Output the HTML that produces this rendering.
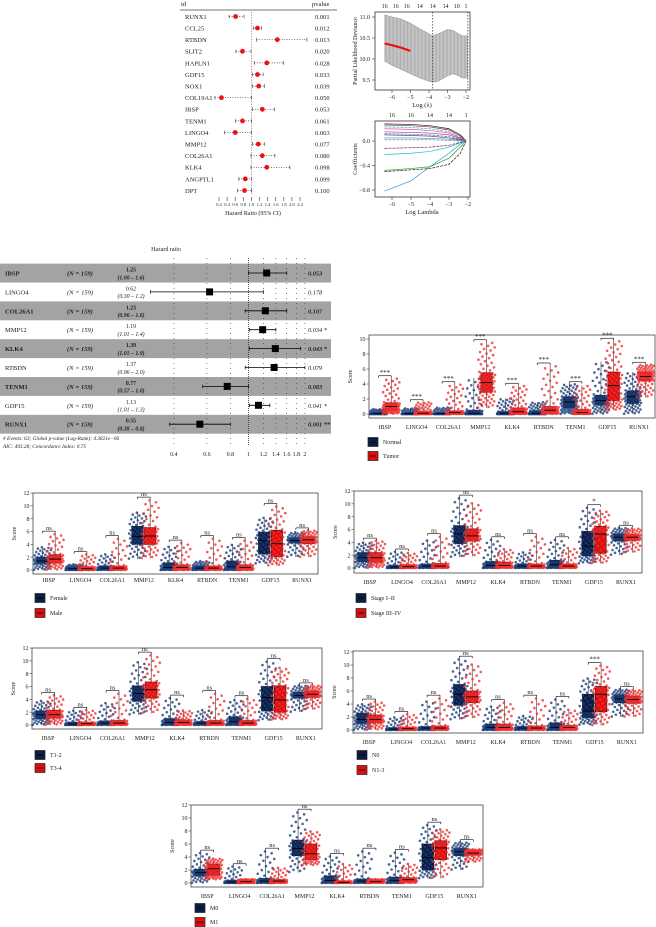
<!DOCTYPE html>
<html><head><meta charset="utf-8">
<style>
html,body{margin:0;padding:0;background:#fff;}
svg{display:block;font-family:"Liberation Serif",serif;}
</style></head>
<body>
<svg id="fig" width="656" height="927" viewBox="0 0 656 927"></svg>
<script>
// ---------- DATA ----------
const uniGenes = ["RUNX1","CCL25","RTBDN","SLIT2","HAPLN1","GDF15","NOX1","COL19A1","IBSP","TENM1","LINGO4","MMP12","COL26A1","KLK4","ANGPTL1","DPT"];
const uniHR = [0.61,1.15,1.64,0.78,1.38,1.15,1.18,0.26,1.27,0.78,0.60,1.17,1.27,1.38,0.85,0.83];
const uniLo = [0.45,1.05,1.13,0.62,1.07,1.03,1.03,0.10,1.03,0.61,0.34,1.03,0.99,0.99,0.69,0.66];
const uniHi = [0.82,1.25,2.37,0.99,1.79,1.29,1.32,1.00,1.57,1.00,1.00,1.32,1.58,1.95,1.00,1.00];
const uniP = ["0.001","0.012","0.013","0.020","0.028","0.033","0.039","0.050","0.053","0.061","0.063","0.077","0.080","0.098","0.099","0.100"];
const uniTicks = [0.2,0.4,0.6,0.8,1.0,1.2,1.4,1.6,1.8,2.0,2.2];

const cvLambda = [-6.4,-6,-5.5,-5,-4.5,-4,-3.8,-3.5,-3,-2.7,-2.4,-2.2,-2.1,-1.9];
const cvUpper = [11.05,11.0,10.95,10.85,10.72,10.6,10.55,10.6,10.7,10.68,10.6,10.55,10.55,10.55];
const cvLower = [9.95,9.85,9.75,9.65,9.55,9.47,9.45,9.47,9.6,9.65,9.6,9.55,9.55,9.55];
const cvRedLambda = [-6.4,-6,-5.5,-5];
const cvRed = [10.37,10.33,10.27,10.19];
const cvTopLabels = ["16","16","16","14","14","14","10","1"];
const cvTopPos = [-6.4,-5.8,-5.2,-4.5,-3.8,-3.1,-2.5,-2.0];

const coefLambda = [-6.4,-5,-4,-3,-2.4,-2.1];
const coefPaths = [
 [-0.82,-0.65,-0.42,-0.2,-0.05,0],
 [-0.5,-0.47,-0.45,-0.38,-0.2,0],
 [-0.48,-0.45,-0.42,-0.28,-0.1,0],
 [-0.22,-0.2,-0.17,-0.1,-0.03,0],
 [-0.12,-0.11,-0.1,-0.07,-0.02,0],
 [0.28,0.27,0.25,0.2,0.1,0],
 [0.26,0.25,0.23,0.18,0.08,0],
 [0.23,0.22,0.2,0.15,0.06,0],
 [0.2,0.19,0.17,0.13,0.05,0],
 [0.15,0.14,0.13,0.1,0.04,0],
 [0.12,0.11,0.1,0.07,0.03,0],
 [0.1,0.09,0.08,0.05,0.02,0],
 [0.05,0.05,0.04,0.03,0.01,0],
 [0.02,0.02,0.02,0.01,0.0,0]
];
const coefColors = ["#3a8fd6","#222","#2ca02c","#19c2c2","#8b1a3a","#222","#a0204a","#19c2c2","#e04aa0","#b030b0","#2ca02c","#6a3ab0","#3a8fd6","#888"];
const coefTopLabels = ["16","16","14","14","1"];
const coefTopPos = [-6,-5,-4,-3,-2.1];

const mvGenes = ["IBSP","LINGO4","COL26A1","MMP12","KLK4","RTBDN","TENM1","GDF15","RUNX1"];
const mvHR = [1.25,0.62,1.23,1.19,1.39,1.37,0.77,1.13,0.55];
const mvLo = [1.00,0.30,0.96,1.01,1.01,0.96,0.57,1.01,0.38];
const mvHi = [1.6,1.2,1.6,1.4,1.9,2.0,1.0,1.3,0.8];
const mvLoTxt = ["1.00","0.30","0.96","1.01","1.01","0.96","0.57","1.01","0.38"];
const mvHiTxt = ["1.6","1.2","1.6","1.4","1.9","2.0","1.0","1.3","0.8"];
const mvP = ["0.053","0.178","0.107","0.034 *","0.043 *","0.079","0.083","0.041 *","0.001 **"];
const mvTicks = [0.4,0.6,0.8,1,1.2,1.4,1.6,1.8,2];
const mvTickTxt = ["0.4","0.6","0.8","1","1.2","1.4","1.6","1.8","2"];

const boxGenes = ["IBSP","LINGO4","COL26A1","MMP12","KLK4","RTBDN","TENM1","GDF15","RUNX1"];
// each: [lo,q1,med,q3,hi]
const tumorNormal = [[0,0,0.05,0.15,0.7],[0,0,0.05,0.1,0.8],[0,0,0.05,0.1,0.9],[0,0,0.1,0.5,4.8],[0,0,0.1,0.3,2.1],[0,0,0.1,0.4,1.6],[0,0.8,1.6,2.3,4.0],[0,1.2,1.8,2.5,7],[0,1.4,2.3,3.1,5.6]];
const tumorTumor = [[0,0.5,1.0,1.5,4.8],[0,0,0.1,0.3,1.6],[0,0.05,0.2,0.4,4],[0.8,2.9,4.2,5.5,9.6],[0,0.1,0.3,0.8,3.8],[0,0.2,0.5,1.0,6.5],[0,0.05,0.2,0.6,3.8],[0.5,1.8,3.8,5.6,9.8],[2.2,4.4,5.0,5.6,6.6]];
const tumorSig = ["***","***","***","***","***","***","***","***","***"];

const sexF = [[0,1,1.4,2,3.6],[0,0.05,0.2,0.4,0.9],[0,0.1,0.3,0.6,2.5],[1.7,4,5.2,6.8,9],[0,0.1,0.4,1.1,3.7],[0,0.1,0.3,0.6,1.4],[0,0.1,0.5,1.4,4],[1,2.5,4.6,5.9,8.2],[2,4.2,4.6,5,5.9]];
const sexM = [[0,1.1,1.7,2.4,5.7],[0,0.05,0.2,0.5,2.5],[0,0.1,0.3,0.6,5],[1.8,4,5.3,6.6,11],[0,0.1,0.4,0.8,4.3],[0,0.1,0.3,0.6,5],[0,0.1,0.4,0.8,4.7],[0.7,2.1,4.1,6.2,10],[2,4.1,4.7,5.2,6.2]];
const sexSig = ["ns","ns","ns","ns","ns","ns","ns","ns","ns"];

const stage12 = [[0,1,1.6,2.4,4],[0,0.05,0.15,0.4,2.6],[0,0.1,0.3,0.6,4.4],[1.7,3.8,5.3,6.6,11],[0,0.1,0.4,1.0,4.5],[0,0.1,0.3,0.6,2.5],[0,0.1,0.5,1.2,4.5],[0.7,1.9,3.4,5.7,9.5],[2,4.2,4.8,5.3,6.3]];
const stage34 = [[0,0.9,1.6,2.4,4.3],[0,0.05,0.2,0.5,2.4],[0,0.1,0.3,0.7,5],[1.8,4.2,5,6.1,10.2],[0,0.1,0.4,0.9,3],[0,0.1,0.3,0.6,5],[0,0.1,0.3,0.6,3.2],[0.7,2.3,5.3,6.5,9],[2.4,4.3,4.8,5.2,6.2]];
const stageSig = ["ns","ns","ns","ns","ns","ns","ns","*","ns"];

const t12 = [[0,1,1.6,2.2,3.8],[0,0.05,0.15,0.4,2.3],[0,0.1,0.3,0.6,3.5],[1.6,3.7,4.9,6.1,9.9],[0,0.1,0.4,1.0,4.3],[0,0.1,0.3,0.5,2.4],[0,0.1,0.5,1.3,4],[0.7,2.2,4.3,6.0,10],[2,4.2,4.6,5.1,6.2]];
const t34 = [[0,1.1,1.6,2.3,4.7],[0,0.05,0.2,0.4,2.4],[0,0.1,0.3,0.7,5],[1.8,4.2,5.5,6.7,11],[0,0.1,0.4,0.8,2.3],[0,0.1,0.3,0.7,5],[0,0.1,0.3,0.7,4.2],[0.8,2.0,3.9,6.1,9],[2.4,4.3,4.8,5.3,6.2]];
const tSig = ["ns","ns","ns","ns","ns","ns","ns","ns","ns"];

const n0 = [[0,1,1.6,2.6,4],[0,0.05,0.15,0.3,2],[0,0.1,0.3,0.5,4.5],[1.6,3.8,5.5,7,11],[0,0.1,0.4,0.9,3.7],[0,0.1,0.3,0.5,2.2],[0,0.1,0.4,1.1,4.8],[0.8,1.9,2.9,5.5,8],[2,4.2,4.8,5.4,6.3]];
const n13 = [[0,1.1,1.6,2.3,4.4],[0,0.05,0.2,0.4,2.5],[0,0.1,0.3,0.6,5],[1.8,4.2,5.1,6,10.2],[0,0.1,0.4,0.9,4.3],[0,0.1,0.3,0.6,5],[0,0.1,0.4,0.7,3.2],[0.7,2.8,5.5,6.7,10],[2,4.1,4.7,5.2,6.2]];
const nSig = ["ns","ns","ns","ns","ns","ns","ns","***","ns"];

const m0 = [[0,1.1,1.6,2.1,4.7],[0,0.05,0.15,0.4,2.6],[0,0.1,0.3,0.7,5],[1.6,4.2,5.3,6.6,11],[0,0.1,0.4,1.1,4.2],[0,0.1,0.3,0.6,5],[0,0.1,0.4,0.9,4.8],[0.7,2,3.9,6,9],[2,4.2,4.8,5.3,6.3]];
const m1 = [[0.5,1.2,2.2,2.9,3.8],[0,0.05,0.2,0.4,0.6],[0,0.1,0.3,0.5,2.4],[2.7,3.6,4.5,6,8],[0,0.05,0.1,0.3,3],[0,0.1,0.2,0.4,0.6],[0,0.2,0.5,0.8,3],[0.7,3.6,5.4,6.5,8.3],[3.2,4.3,4.6,4.9,5.2]];
const mSig = ["ns","ns","ns","ns","ns","ns","ns","ns","ns"];

// ---------- HELPERS ----------
const NS = "http://www.w3.org/2000/svg";
const S = document.getElementById('fig');
function mk(tag, attrs, parent){
  const e = document.createElementNS(NS, tag);
  for (const k in attrs) e.setAttribute(k, attrs[k]);
  (parent || S).appendChild(e);
  return e;
}
function tx(x, y, s, attrs, parent){
  const a = Object.assign({x:x, y:y, 'font-size':7, fill:'#222'}, attrs || {});
  const e = mk('text', a, parent);
  e.textContent = s;
  return e;
}
function line(x1,y1,x2,y2,st,w,dash,parent){
  const a = {x1:x1,y1:y1,x2:x2,y2:y2,stroke:st||'#000','stroke-width':w||0.6};
  if (dash) a['stroke-dasharray'] = dash;
  return mk('line', a, parent);
}

// ---------- PANEL: univariate forest ----------
(function(){
  const g = mk('g', {});
  
  
  const xs = v => 219 + (v - 0.2) * 40.5;
  const rowY = i => 16.5 + i * 11.6;
  let h = tx(181, 6, 'id', {'font-size':6.5}, g);
  
  
  h = tx(312, 6, 'pvalue', {'font-size':6.5}, g);
  
  
  line(180, 10, 337, 10, '#444', 0.7, null, g);
  line(xs(1.0), 12, xs(1.0), 194, '#555', 0.6, '1.2,1.5', g);
  uniGenes.forEach((gene, i) => {
    const y = rowY(i);
    const t = tx(185, y + 2.4, gene, {'font-size':6.5}, g);
    
    
    const ci = line(xs(uniLo[i]), y, xs(uniHi[i]), y, '#333', 0.7, '1,1.5', g);
    
    
    line(xs(uniLo[i]), y-1.8, xs(uniLo[i]), y+1.8, '#333', 0.6, null, g);
    line(xs(uniHi[i]), y-1.8, xs(uniHi[i]), y+1.8, '#333', 0.6, null, g);
    const pt = mk('circle', {cx:xs(uniHR[i]), cy:y, r:2.4, fill:'#ee1111'}, g);
    
    
    const p = tx(315, y + 2.4, uniP[i], {'font-size':6.5}, g);
    
    
  });
  uniTicks.forEach(v => {
    line(xs(v), 197, xs(v), 201, '#333', 0.6, null, g);
    const t = tx(xs(v), 206, v.toFixed(1), {'font-size':4.5, 'text-anchor':'middle'}, g);
    
    
  });
  const ttl = tx(253, 215, 'Hazard Ratio (95% CI)', {'font-size':6, 'text-anchor':'middle'}, g);
  
  
})();

// ---------- PANEL: CV deviance ----------
(function(){
  const g = mk('g', {});
  
  
  const xs = v => 392 + (v + 6) * 18.5;
  const ys = v => 17 + (11.0 - v) * 42;
  let pts = cvLambda.map((l,i)=>xs(l)+','+ys(cvUpper[i])).join(' ') + ' ' +
            cvLambda.slice().reverse().map((l,j)=>xs(l)+','+ys(cvLower[cvLambda.length-1-j])).join(' ');
  const band = mk('polygon', {points:pts, fill:'#a8a8a8', stroke:'#777', 'stroke-width':0.5}, g);
  
  
  for (let k = 0; k <= 60; k++){
    const l = cvLambda[0] + k * (cvLambda[cvLambda.length-1] - cvLambda[0]) / 60;
    let j = 0; while (j < cvLambda.length - 2 && cvLambda[j+1] < l) j++;
    const f = (l - cvLambda[j]) / (cvLambda[j+1] - cvLambda[j]);
    const u = cvUpper[j] + f * (cvUpper[j+1] - cvUpper[j]);
    const lo = cvLower[j] + f * (cvLower[j+1] - cvLower[j]);
    line(xs(l), ys(u), xs(l), ys(lo), '#e8e8e8', 0.45, null, g);
  }
  const red = mk('polyline', {points:cvRedLambda.map((l,i)=>xs(l)+','+ys(cvRed[i])).join(' '), fill:'none', stroke:'#ee1111', 'stroke-width':2.2}, g);
  
  
  line(xs(-3.8), 12, xs(-3.8), 90, '#333', 0.7, '1.5,1.5', g);
  line(xs(-1.9), 12, xs(-1.9), 90, '#333', 0.7, '1.5,1.5', g);
  const fr = mk('rect', {x:375, y:12, width:95, height:78, fill:'none', stroke:'#333', 'stroke-width':0.8}, g);
  
  
  [11.0,10.5,10.0,9.5].forEach(v => {
    line(372, ys(v), 375, ys(v), '#333', 0.6, null, g);
    tx(370, ys(v)+2.2, v.toFixed(1), {'font-size':6, 'text-anchor':'end'}, g);
  });
  [-6,-5,-4,-3,-2].forEach(v => {
    line(xs(v), 90, xs(v), 93, '#333', 0.6, null, g);
    tx(xs(v), 99, '\u2212' + Math.abs(v), {'font-size':6, 'text-anchor':'middle'}, g);
  });
  cvTopLabels.forEach((s,i) => tx(xs(cvTopPos[i]), 8, s, {'font-size':6, 'text-anchor':'middle'}, g));
  const xt = tx(422, 107, 'Log (\u03bb)', {'font-size':6.5, 'text-anchor':'middle'}, g);
  
  
  const yt = tx(0, 0, 'Partial Likelihood Deviance', {'font-size':6, 'text-anchor':'middle', transform:'translate(357,51) rotate(-90)'}, g);
  
  
})();

// ---------- PANEL: coefficient paths ----------
(function(){
  const g = mk('g', {});
  
  
  const xs = v => 392 + (v + 6) * 19;
  const ys = v => 141 - v * 61.25;
  coefPaths.forEach((p,i) => {
    const d = 'M' + coefLambda.map((l,k)=>xs(l)+','+ys(p[k])).join(' L');
    const pl = mk('path', {d:d, fill:'none', stroke:coefColors[i], 'stroke-width':0.7, 'stroke-dasharray': i%3===1 ? '3,1' : 'none'}, g);
    
    
  });
  const fr = mk('rect', {x:375, y:121, width:95, height:76, fill:'none', stroke:'#333', 'stroke-width':0.8}, g);
  
  
  [0.0,-0.4,-0.8].forEach(v => {
    line(372, ys(v), 375, ys(v), '#333', 0.6, null, g);
    tx(370, ys(v)+2.2, (v<0?'\u2212':'') + Math.abs(v).toFixed(1), {'font-size':6, 'text-anchor':'end'}, g);
  });
  [-6,-5,-4,-3,-2].forEach(v => {
    line(xs(v), 197, xs(v), 200, '#333', 0.6, null, g);
    tx(xs(v), 206, '\u2212' + Math.abs(v), {'font-size':6, 'text-anchor':'middle'}, g);
  });
  coefTopLabels.forEach((s,i) => tx(xs(coefTopPos[i]), 117, s, {'font-size':6, 'text-anchor':'middle'}, g));
  const xt = tx(422, 214, 'Log Lambda', {'font-size':6.5, 'text-anchor':'middle'}, g);
  
  
  const yt = tx(0, 0, 'Coefficients', {'font-size':6.5, 'text-anchor':'middle', transform:'translate(357,159) rotate(-90)'}, g);
  
  
})();

// ---------- PANEL: multivariate forest ----------
(function(){
  const g = mk('g', {});
  
  
  const xs = v => 248.5 + 81.4 * Math.log(v);
  const rowY = i => 273 + i * 18.9;
  mvGenes.forEach((gene,i) => {
    if (i % 2 === 0){
      const r = mk('rect', {x:0, y:rowY(i)-9.4, width:331, height:18.9, fill:'#a3a3a3'}, g);
      
      
    }
  });
  const hr = tx(166, 251, 'Hazard ratio', {'font-size':6, 'text-anchor':'middle'}, g);
  
  
  mvTicks.forEach((v,i) => {
    line(xs(v), 258, xs(v), 446, '#333', v===1?0.8:0.6, v===1?'1,1':'1,4', g);
    const t = tx(xs(v), 456, mvTickTxt[i], {'font-size':6, 'text-anchor':'middle'}, g);
    
    
  });
  mvGenes.forEach((gene,i) => {
    const y = rowY(i), b = i % 2 === 0;
    const w = b ? 'bold' : 'normal';
    const n = tx(5, y+2.5, gene, {'font-size':6.5, 'font-weight':w}, g);
    
    
    tx(67, y+2.5, '(N = 159)', {'font-size':6.5, 'font-style':'italic', 'font-weight':w}, g);
    tx(131, y-1.5, mvHR[i].toFixed(2), {'font-size':5.8, 'text-anchor':'middle', 'font-weight':w}, g);
    tx(131, y+6.3, '(' + mvLoTxt[i] + ' \u2013 ' + mvHiTxt[i] + ')', {'font-size':5.8, 'text-anchor':'middle', 'font-style':'italic', 'font-weight':w}, g);
    const ci = line(xs(mvLo[i]), y, xs(mvHi[i]), y, '#000', 0.8, null, g);
    
    
    line(xs(mvLo[i]), y-1.8, xs(mvLo[i]), y+1.8, '#000', 0.7, null, g);
    line(xs(mvHi[i]), y-1.8, xs(mvHi[i]), y+1.8, '#000', 0.7, null, g);
    const sq = mk('rect', {x:xs(mvHR[i])-3.5, y:y-3.5, width:7, height:7, fill:'#000'}, g);
    
    
    const p = tx(308, y+2.5, mvP[i], {'font-size':6.3, 'font-style':'italic', 'font-weight':w}, g);
    
    
  });
  const f1 = tx(3, 440, '# Events: 63; Global p-value (Log-Rank): 4.3821e\u221206', {'font-size':5.3, 'font-style':'italic'}, g);
  
  
  const f2 = tx(3, 448, 'AIC: 493.28; Concordance Index: 0.75', {'font-size':5.3, 'font-style':'italic'}, g);
  
  
})();

// ---------- BOX PANELS ----------
function quant(b, u){
  const qs = [0,0.25,0.5,0.75,1];
  let j = 0; while (j < 3 && u > qs[j+1]) j++;
  const f = (u - qs[j]) / (qs[j+1] - qs[j]);
  return b[j] + f * (b[j+1] - b[j]);
}
function boxPanel(p){
  const g = mk('g', {});
  
  
  const y = v => p.y0 - v * (p.y0 - p.yTop) / p.max;
  const gw = (p.R - p.L) / 9;
  const bw = gw * 0.36;
  const fr = mk('rect', {x:p.L, y:p.fTop, width:p.R-p.L, height:p.fBot-p.fTop, fill:'#fff', stroke:'#444', 'stroke-width':0.8}, g);
  
  
  p.ticks.forEach(v => {
    line(p.L-2.5, y(v), p.L, y(v), '#444', 0.6, null, g);
    const t = tx(p.L-3.5, y(v)+2.2, String(v), {'font-size':6, 'text-anchor':'end'}, g);
    
    
  });
  const yt = tx(0, 0, 'Score', {'font-size':6, 'text-anchor':'middle', transform:'translate(' + (p.L-17) + ',' + ((p.fTop+p.fBot)/2) + ') rotate(-90)'}, g);
  
  
  const groups = [p.a, p.b];
  const fills = ['#0c1d45', '#e00d0d'];
  const dots = ['#1c3f7a', '#f03030'];
  boxGenes.forEach((gene,i) => {
    const cx = p.L + gw * (i + 0.5);
    const centers = [cx - gw*0.2, cx + gw*0.2];
    groups.forEach((grp,k) => {
      const b = grp[i], c = centers[k];
      line(c, y(b[0]), c, y(b[4]), '#333', 0.6, null, g);
      const bx = mk('rect', {x:c-bw/2, y:y(b[3]), width:bw, height:Math.max(0.8, y(b[1])-y(b[3])), fill:fills[k], stroke:'#111', 'stroke-width':0.6}, g);
      
      
      const N = p.n;
      for (let m = 0; m < N; m++){
        const u = (m + 0.5) / N;
        const jit = (((m * 0.6180339) % 1) - 0.5) * bw * 1.5;
        const d = mk('circle', {cx:c + jit, cy:y(quant(b, u)), r:1.3, fill:dots[k], 'fill-opacity':0.8}, g);
        
        
      }
      line(c-bw/2, y(b[2]), c+bw/2, y(b[2]), '#000', 0.9, null, g);
    });
    const top = Math.max(groups[0][i][4], groups[1][i][4]) + p.max*0.03;
    const by = y(top);
    line(centers[0], by, centers[1], by, '#000', 0.6, null, g);
    line(centers[0], by, centers[0], by+2, '#000', 0.6, null, g);
    line(centers[1], by, centers[1], by+2, '#000', 0.6, null, g);
    const s = tx(cx, by - 1, p.sig[i], {'font-size':p.sig[i]==='ns'?6.5:7, 'text-anchor':'middle'}, g);
    
    
    const gl = tx(cx, p.labY, gene, {'font-size':6, 'text-anchor':'middle'}, g);
    
    
  });
  p.leg.forEach((lab,k) => {
    const ly = k===0 ? p.legY1 : p.legY2;
    const sw = mk('rect', {x:p.legX, y:ly-4.5, width:10, height:9, fill:fills[k], stroke:'#222', 'stroke-width':0.7}, g);
    
    
    line(p.legX+2, ly, p.legX+8, ly, '#000', 0.8, null, g);
    const lt = tx(p.legX+15, ly+2.2, lab, {'font-size':6}, g);
    
    
  });
}

boxPanel({name:'tumor-vs-normal-boxplot', L:369, R:655, yTop:339, y0:414, fTop:335, fBot:418, max:10, ticks:[0,2,4,6,8,10], labY:429, a:tumorNormal, b:tumorTumor, sig:tumorSig, leg:['Normal','Tumor'], legX:368, legY1:442, legY2:456, n:80});
boxPanel({name:'sex-boxplot', L:33, R:318, yTop:493, y0:570, fTop:493, fBot:574, max:12, ticks:[0,2,4,6,8,10,12], labY:582, a:sexF, b:sexM, sig:sexSig, leg:['Female','Male'], legX:35, legY1:598, legY2:613, n:60});
boxPanel({name:'stage-boxplot', L:354, R:642, yTop:491, y0:568, fTop:491, fBot:573, max:12, ticks:[0,2,4,6,8,10,12], labY:584, a:stage12, b:stage34, sig:stageSig, leg:['Stage I\u2013II','Stage III\u2013IV'], legX:356, legY1:598, legY2:613, n:60});
boxPanel({name:'t-stage-boxplot', L:32, R:322, yTop:648, y0:725, fTop:648, fBot:729, max:12, ticks:[0,2,4,6,8,10,12], labY:740, a:t12, b:t34, sig:tSig, leg:['T1-2','T3-4'], legX:35, legY1:755, legY2:768, n:60});
boxPanel({name:'n-stage-boxplot', L:353, R:643, yTop:652, y0:730, fTop:651, fBot:733, max:12, ticks:[0,2,4,6,8,10,12], labY:744, a:n0, b:n13, sig:nSig, leg:['N0','N1-3'], legX:357, legY1:755, legY2:770, n:60});
boxPanel({name:'m-stage-boxplot', L:191, R:483, yTop:805, y0:883, fTop:805, fBot:887, max:12, ticks:[0,2,4,6,8,10,12], labY:898, a:m0, b:m1, sig:mSig, leg:['M0','M1'], legX:195, legY1:908, legY2:922, n:60});
</script>
</body></html>
